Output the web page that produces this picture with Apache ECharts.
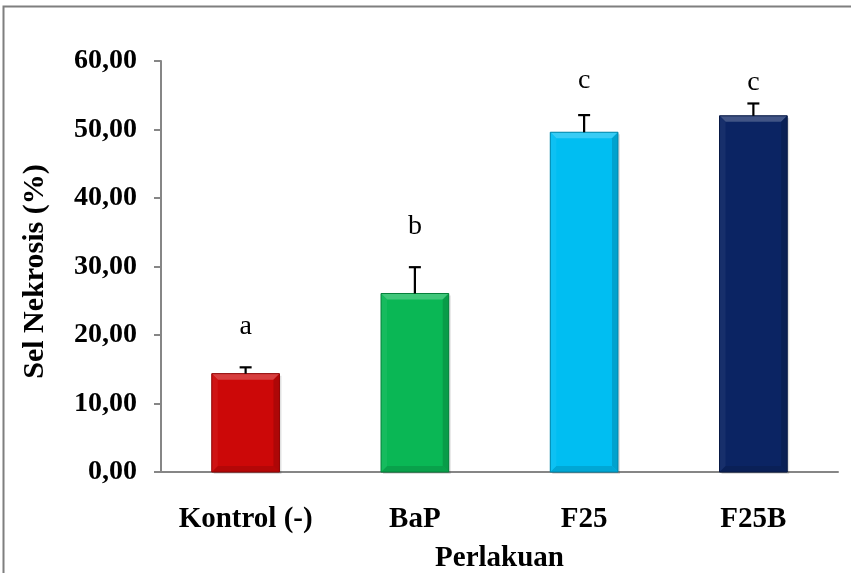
<!DOCTYPE html>
<html><head><meta charset="utf-8">
<script src="https://cdn.jsdelivr.net/npm/echarts@6/dist/echarts.min.js"></script>
<style>html,body{margin:0;padding:0;background:#fff}#c{width:851px;height:573px}</style>
</head><body><div id="c"></div>
<script>
const categories = ['Kontrol (-)', 'BaP', 'F25', 'F25B'];
const values = [14.36, 26.06, 49.6, 52.0];
const errors = [0.92, 3.84, 2.5, 1.8];
const letters = ['a', 'b', 'c', 'c'];
const letterY = [21.2, 35.8, 57.2, 56.9];
const colors = ['#CC0808', '#0AB755', '#00BEF2', '#0B2463'];
const yTicks = [0, 10, 20, 30, 40, 50, 60];

function shade(hex, f) {
  const n = parseInt(hex.slice(1), 16);
  let r = n >> 16, g = (n >> 8) & 255, b = n & 255;
  const m = c => Math.max(0, Math.min(255, Math.round(f > 0 ? c + (255 - c) * f : c * (1 + f))));
  return 'rgb(' + m(r) + ',' + m(g) + ',' + m(b) + ')';
}

const chart = echarts.init(document.getElementById('c'));
const serif = '"Liberation Serif", "Times New Roman", serif';
chart.setOption({
  animation: false,
  grid: { left: 161, right: 13, top: 61, bottom: 101, outerBoundsMode: 'none', containLabel: false },
  graphic: [{ type: 'rect', shape: { x: 3.5, y: 6.5, width: 860, height: 600 }, style: { fill: 'none', stroke: '#7f7f7f', lineWidth: 2 }, silent: true }],
  xAxis: {
    type: 'category', data: categories,
    axisLine: { lineStyle: { color: '#868686', width: 2 } },
    axisTick: { show: false },
    axisLabel: { interval: 0, hideOverlap: false, color: '#000', fontFamily: serif, fontWeight: 'bold', fontSize: 29, margin: 33 },
    name: 'Perlakuan', nameLocation: 'middle', nameGap: 72,
    nameTextStyle: { color: '#000', fontFamily: serif, fontWeight: 'bold', fontSize: 29 }
  },
  yAxis: {
    type: 'value', min: 0, max: 60, interval: 10,
    axisLine: { show: true, lineStyle: { color: '#868686', width: 2 } },
    axisTick: { show: true, length: 7, lineStyle: { color: '#868686', width: 2 } },
    splitLine: { show: false },
    axisLabel: { color: '#000', fontFamily: serif, fontWeight: 'bold', fontSize: 28, margin: 24,
      formatter: v => yTicks.indexOf(v) >= 0 ? v.toFixed(2).replace('.', ',') : '' },
    name: 'Sel Nekrosis (%)', nameLocation: 'middle', nameGap: 111, nameRotate: 90,
    nameTextStyle: { color: '#000', fontFamily: serif, fontWeight: 'bold', fontSize: 30, padding: [0, 10, 0, 0] }
  },
  series: [
    {
      type: 'custom',
      data: values.map((v, i) => [i, v]),
      renderItem: (params, api) => {
        const i = api.value(0);
        const top = api.coord([i, api.value(1)]);
        const base = api.coord([i, 0]);
        const bw = api.size([1, 0])[0] * 0.4;
        const x0 = top[0] - bw / 2, x1 = top[0] + bw / 2, y0 = top[1], y1 = base[1];
        const c = colors[i], b = 6;
        return { type: 'group', children: [
          { type: 'rect', shape: { x: x0 + 2, y: y0 + 2, width: bw, height: y1 - y0 }, style: { fill: 'rgba(0,0,0,0.12)' } },
          { type: 'rect', shape: { x: x0, y: y0, width: bw, height: y1 - y0 }, style: { fill: c } },
          { type: 'polygon', shape: { points: [[x0, y0], [x1, y0], [x1 - b, y0 + b], [x0 + b, y0 + b]] }, style: { fill: shade(c, 0.22) } },
          { type: 'polygon', shape: { points: [[x0, y1], [x1, y1], [x1 - b, y1 - b], [x0 + b, y1 - b]] }, style: { fill: shade(c, -0.12) } },
          { type: 'polygon', shape: { points: [[x0, y0], [x0 + b, y0 + b], [x0 + b, y1 - b], [x0, y1]] }, style: { fill: shade(c, 0.05) } },
          { type: 'polygon', shape: { points: [[x1, y0], [x1 - b, y0 + b], [x1 - b, y1 - b], [x1, y1]] }, style: { fill: shade(c, -0.15) } },
          { type: 'rect', shape: { x: x0, y: y0, width: bw, height: y1 - y0 }, style: { fill: 'none', stroke: shade(c, -0.3), lineWidth: 1 } }
        ] };
      }
    },
    {
      type: 'custom',
      data: values.map((v, i) => [i, v, v + errors[i]]),
      z: 5,
      renderItem: (params, api) => {
        const i = api.value(0);
        const p0 = api.coord([i, api.value(1)]);
        const p1 = api.coord([i, api.value(2)]);
        const st = { stroke: '#000', lineWidth: 2.2 };
        return { type: 'group', children: [
          { type: 'line', shape: { x1: p0[0], y1: p0[1], x2: p1[0], y2: p1[1] }, style: st },
          { type: 'line', shape: { x1: p1[0] - 6, y1: p1[1], x2: p1[0] + 6, y2: p1[1] }, style: st }
        ] };
      }
    },
    {
      type: 'custom',
      data: letterY.map((v, i) => [i, v]),
      z: 6,
      renderItem: (params, api) => {
        const i = api.value(0);
        const p = api.coord([i, api.value(1)]);
        return { type: 'text', x: p[0], y: p[1], style: { text: letters[i], fill: '#000', font: '28px ' + serif, align: 'center', verticalAlign: 'middle' } };
      }
    }
  ]
});
</script></body></html>
